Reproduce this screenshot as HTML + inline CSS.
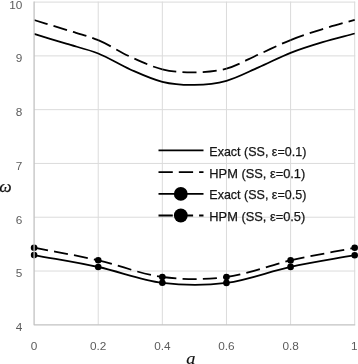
<!DOCTYPE html>
<html lang="en"><head><meta charset="utf-8"><title>Chart</title>
<style>html,body{margin:0;padding:0;background:#fff}svg{display:block}</style>
</head><body>
<svg width="358" height="364" viewBox="0 0 358 364">
<rect width="358" height="364" fill="#fff"/>
<g stroke="#dbdbdb" stroke-width="1" fill="none">
<line x1="34.10" y1="271.02" x2="355.20" y2="271.02"/>
<line x1="34.10" y1="217.23" x2="355.20" y2="217.23"/>
<line x1="34.10" y1="163.45" x2="355.20" y2="163.45"/>
<line x1="34.10" y1="109.67" x2="355.20" y2="109.67"/>
<line x1="34.10" y1="55.88" x2="355.20" y2="55.88"/>
<line x1="34.10" y1="2.10" x2="355.20" y2="2.10"/>
<line x1="98.22" y1="1.60" x2="98.22" y2="324.80"/>
<line x1="162.34" y1="1.60" x2="162.34" y2="324.80"/>
<line x1="226.46" y1="1.60" x2="226.46" y2="324.80"/>
<line x1="290.58" y1="1.60" x2="290.58" y2="324.80"/>
<line x1="354.70" y1="1.60" x2="354.70" y2="324.80"/>
</g>
<g fill="none" stroke="#000" stroke-width="1.8" stroke-linejoin="round">
<path d="M34.10 33.90 C44.79 37.17 55.47 40.43 66.16 43.70 C76.85 46.97 87.53 49.21 98.22 53.50 C108.91 57.79 119.59 64.73 130.28 69.45 C140.97 74.17 151.65 79.22 162.34 81.80 C173.03 84.38 183.71 85.07 194.40 84.90 C205.09 84.73 215.77 83.72 226.46 80.80 C237.15 77.88 247.83 72.07 258.52 67.40 C269.21 62.73 279.89 57.02 290.58 52.80 C301.27 48.58 311.95 45.32 322.64 42.10 C333.33 38.88 344.01 36.37 354.70 33.50"/>
<path d="M34.10 20.00 C44.79 23.28 55.47 26.49 66.16 29.85 C76.85 33.21 87.53 35.67 98.22 40.15" stroke-dasharray="14.1 6.2"/>
<path d="M98.22 40.15 C108.91 44.63 119.59 51.89 130.28 56.75 C140.97 61.61 151.65 66.69 162.34 69.30" stroke-dasharray="14.1 6.2"/>
<path d="M162.34 69.30 C173.03 71.91 183.71 72.52 194.40 72.40 C205.09 72.28 215.77 71.58 226.46 68.60" stroke-dasharray="14.1 6.2"/>
<path d="M226.46 68.60 C237.15 65.62 247.83 59.26 258.52 54.50 C269.21 49.74 279.89 44.28 290.58 40.05" stroke-dasharray="14.1 6.2"/>
<path d="M290.58 40.05 C301.27 35.82 311.95 32.48 322.64 29.10 C333.33 25.73 344.01 22.90 354.70 19.80" stroke-dasharray="14.1 6.2"/>
<path d="M34.10 255.10 C55.47 259.07 76.85 262.38 98.22 267.00 C119.59 271.62 140.97 280.15 162.34 282.80 C183.71 285.45 205.09 285.55 226.46 282.90 C247.83 280.25 269.21 271.52 290.58 266.90 C311.95 262.28 333.33 259.10 354.70 255.20"/>
<path d="M34.10 247.70 C55.47 251.90 76.85 255.42 98.22 260.30" stroke-dasharray="14.1 6.2"/>
<path d="M98.22 260.30 C119.59 265.18 140.97 274.22 162.34 277.00" stroke-dasharray="14.1 6.2"/>
<path d="M162.34 277.00 C183.71 279.78 205.09 279.77 226.46 277.00" stroke-dasharray="14.1 6.2"/>
<path d="M226.46 277.00 C247.83 274.23 269.21 265.27 290.58 260.40" stroke-dasharray="14.1 6.2"/>
<path d="M290.58 260.40 C311.95 255.53 333.33 252.00 354.70 247.80" stroke-dasharray="14.1 6.2"/>
</g>
<g fill="#000">
<circle cx="34.10" cy="255.10" r="3.3"/>
<circle cx="98.22" cy="267.00" r="3.3"/>
<circle cx="162.34" cy="282.80" r="3.3"/>
<circle cx="226.46" cy="282.90" r="3.3"/>
<circle cx="290.58" cy="266.90" r="3.3"/>
<circle cx="354.70" cy="255.20" r="3.3"/>
<circle cx="34.10" cy="247.70" r="3.3"/>
<circle cx="98.22" cy="260.30" r="3.3"/>
<circle cx="162.34" cy="277.00" r="3.3"/>
<circle cx="226.46" cy="277.00" r="3.3"/>
<circle cx="290.58" cy="260.40" r="3.3"/>
<circle cx="354.70" cy="247.80" r="3.3"/>
</g>
<g stroke="#c2c2c2" stroke-width="1.3" stroke-linejoin="round" fill="none">
<polyline points="34.10,1.60 34.10,324.80 355.20,324.80"/>
</g>
<g font-family="'Liberation Sans', Arial, sans-serif" font-size="11.8" fill="#5c5c5c">
<text x="22.4" y="331.25" text-anchor="end">4</text>
<text x="22.4" y="277.47" text-anchor="end">5</text>
<text x="22.4" y="223.68" text-anchor="end">6</text>
<text x="22.4" y="169.90" text-anchor="end">7</text>
<text x="22.4" y="116.12" text-anchor="end">8</text>
<text x="22.4" y="62.33" text-anchor="end">9</text>
<text x="22.4" y="8.55" text-anchor="end">10</text>
<text x="34.10" y="349.8" text-anchor="middle">0</text>
<text x="98.22" y="349.8" text-anchor="middle">0.2</text>
<text x="162.34" y="349.8" text-anchor="middle">0.4</text>
<text x="226.46" y="349.8" text-anchor="middle">0.6</text>
<text x="290.58" y="349.8" text-anchor="middle">0.8</text>
<text x="354.30" y="349.8" text-anchor="middle">1</text>
</g>
<g font-family="'Liberation Serif', 'Times New Roman', serif" font-style="italic" fill="#111">
<text x="5.3" y="192.1" font-size="17.5" text-anchor="middle" stroke="#111" stroke-width="0.25">ω</text>
<text transform="translate(190.8 363.6) scale(1.12 1)" x="0" y="0" font-size="16.4" text-anchor="middle" stroke="#111" stroke-width="0.12">a</text>
</g>
<g fill="none" stroke="#000" stroke-width="1.8">
<line x1="158.5" y1="150.3" x2="203.5" y2="150.3"/>
<line x1="158.5" y1="172.1" x2="203.5" y2="172.1" stroke-dasharray="14.3 6"/>
<line x1="158.5" y1="193.9" x2="203.5" y2="193.9"/>
<line x1="158.5" y1="215.5" x2="203.5" y2="215.5" stroke-dasharray="14.3 6"/>
</g>
<circle cx="180.8" cy="193.9" r="6.9" fill="#000"/>
<circle cx="180.8" cy="215.5" r="6.9" fill="#000"/>
<g font-family="'Liberation Sans', Arial, sans-serif" font-size="13.3" fill="#141414" stroke="#141414" stroke-width="0.25">
<text x="209.3" y="155.70" textLength="97.0" lengthAdjust="spacingAndGlyphs">Exact (SS, ε=0.1)</text>
<text x="209.3" y="177.50" textLength="96.0" lengthAdjust="spacingAndGlyphs">HPM (SS, ε=0.1)</text>
<text x="209.3" y="199.30" textLength="97.0" lengthAdjust="spacingAndGlyphs">Exact (SS, ε=0.5)</text>
<text x="209.3" y="220.90" textLength="96.0" lengthAdjust="spacingAndGlyphs">HPM (SS, ε=0.5)</text>
</g>
</svg>
</body></html>
